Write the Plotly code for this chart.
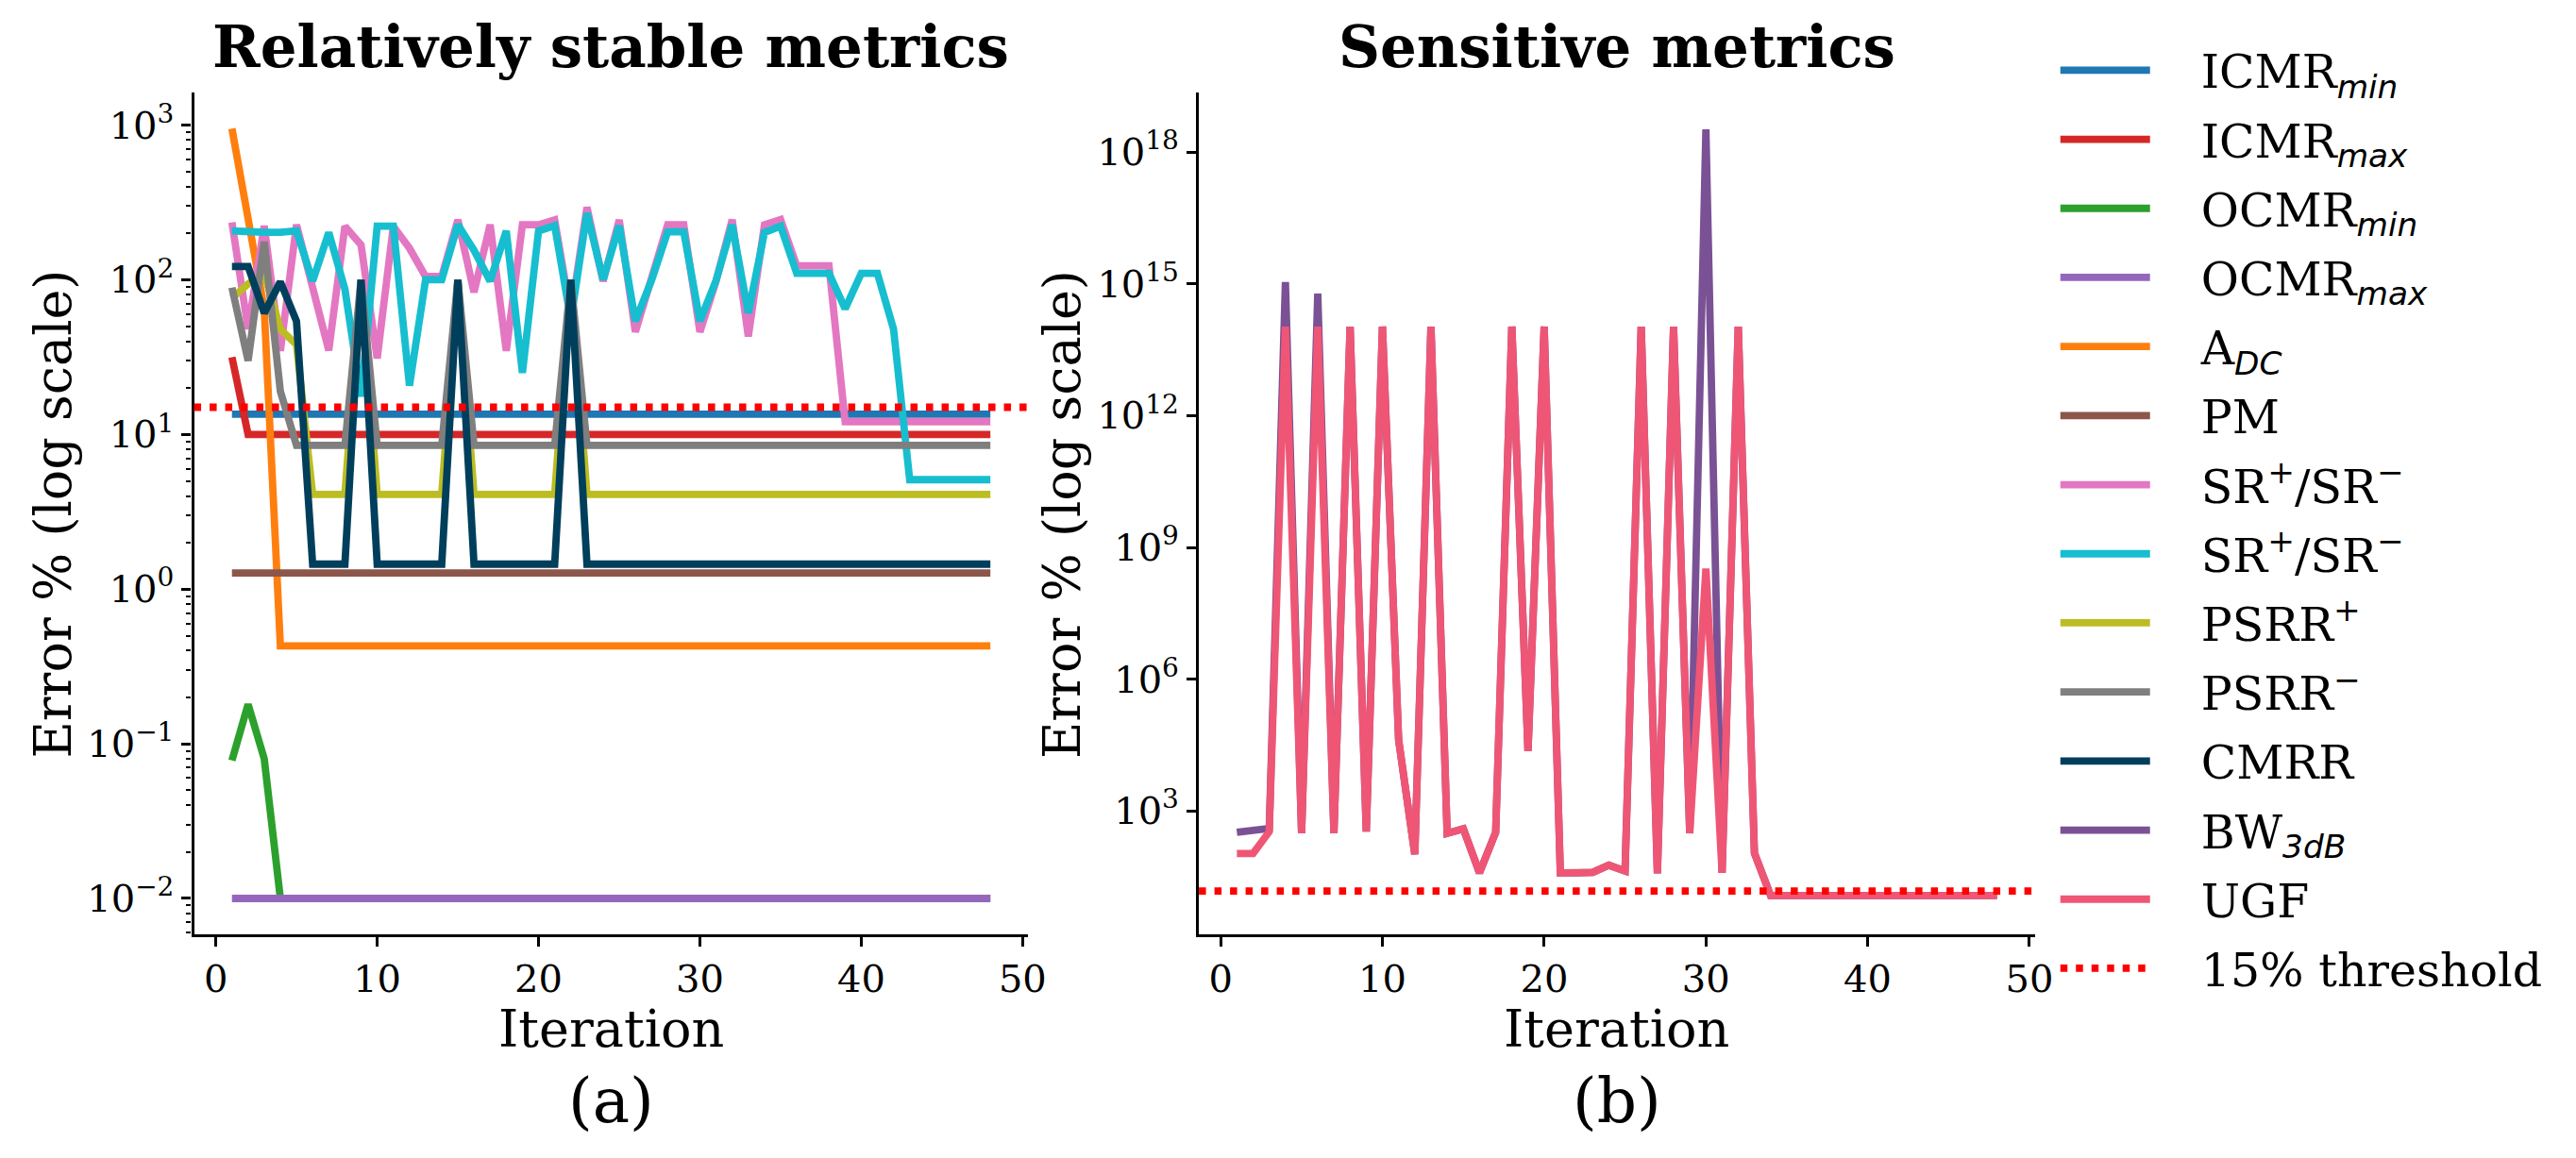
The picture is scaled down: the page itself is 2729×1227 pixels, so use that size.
import plotly.graph_objects as go

# ---------------- data ----------------
iterations = list(range(1, 49))

icmr_min = [13.5, 13.5, 13.5, 13.5, 13.5, 13.5, 13.5, 13.5, 13.5, 13.5, 13.5, 13.5,
            13.5, 13.5, 13.5, 13.5, 13.5, 13.5, 13.5, 13.5, 13.5, 13.5, 13.5, 13.5,
            13.5, 13.5, 13.5, 13.5, 13.5, 13.5, 13.5, 13.5, 13.5, 13.5, 13.5, 13.5,
            13.5, 13.5, 13.5, 13.5, 13.5, 13.5, 13.5, 13.5, 13.5, 13.5, 13.5, 13.5]
icmr_max = [31.6, 10, 10, 10, 10, 10, 10, 10, 10, 10, 10, 10,
            10, 10, 10, 10, 10, 10, 10, 10, 10, 10, 10, 10,
            10, 10, 10, 10, 10, 10, 10, 10, 10, 10, 10, 10,
            10, 10, 10, 10, 10, 10, 10, 10, 10, 10, 10, 10]
ocmr_min = [0.078, 0.18, 0.08, 0.01, 0.01, 0.01, 0.01, 0.01, 0.01, 0.01, 0.01, 0.01,
            0.01, 0.01, 0.01, 0.01, 0.01, 0.01, 0.01, 0.01, 0.01, 0.01, 0.01, 0.01,
            0.01, 0.01, 0.01, 0.01, 0.01, 0.01, 0.01, 0.01, 0.01, 0.01, 0.01, 0.01,
            0.01, 0.01, 0.01, 0.01, 0.01, 0.01, 0.01, 0.01, 0.01, 0.01, 0.01, 0.01]
ocmr_max = [0.01, 0.01, 0.01, 0.01, 0.01, 0.01, 0.01, 0.01, 0.01, 0.01, 0.01, 0.01,
            0.01, 0.01, 0.01, 0.01, 0.01, 0.01, 0.01, 0.01, 0.01, 0.01, 0.01, 0.01,
            0.01, 0.01, 0.01, 0.01, 0.01, 0.01, 0.01, 0.01, 0.01, 0.01, 0.01, 0.01,
            0.01, 0.01, 0.01, 0.01, 0.01, 0.01, 0.01, 0.01, 0.01, 0.01, 0.01, 0.01]
a_dc = [950, 250, 65, 0.43, 0.43, 0.43, 0.43, 0.43, 0.43, 0.43, 0.43, 0.43,
        0.43, 0.43, 0.43, 0.43, 0.43, 0.43, 0.43, 0.43, 0.43, 0.43, 0.43, 0.43,
        0.43, 0.43, 0.43, 0.43, 0.43, 0.43, 0.43, 0.43, 0.43, 0.43, 0.43, 0.43,
        0.43, 0.43, 0.43, 0.43, 0.43, 0.43, 0.43, 0.43, 0.43, 0.43, 0.43, 0.43]
pm = [1.27, 1.27, 1.27, 1.27, 1.27, 1.27, 1.27, 1.27, 1.27, 1.27, 1.27, 1.27,
      1.27, 1.27, 1.27, 1.27, 1.27, 1.27, 1.27, 1.27, 1.27, 1.27, 1.27, 1.27,
      1.27, 1.27, 1.27, 1.27, 1.27, 1.27, 1.27, 1.27, 1.27, 1.27, 1.27, 1.27,
      1.27, 1.27, 1.27, 1.27, 1.27, 1.27, 1.27, 1.27, 1.27, 1.27, 1.27, 1.27]
sr_a = [235, 48, 223, 34.7, 227, 89, 35, 222, 168, 31, 222, 160,
        105, 105, 244, 83, 227, 34.7, 227, 227, 244, 60, 294, 98,
        244, 46, 98, 227, 227, 46, 98, 245, 43, 227, 245, 123,
        123, 123, 12.1, 12.1, 12.1, 12.1, 12.1, 12.1, 12.1, 12.1, 12.1, 12.1]
sr_b = [207, 203, 203, 203, 207, 98, 202, 87, 17.6, 222, 222, 20.7,
        100, 100, 227, 155, 98, 207, 25, 207, 224, 55, 270, 100,
        224, 54, 99, 204, 204, 54, 99, 227, 61, 202, 222, 110,
        110, 110, 65, 110, 110, 48, 5.1, 5.1, 5.1, 5.1, 5.1, 5.1]
psrr_plus = [76, 94, 110, 48, 38, 4.1, 4.1, 4.1, 100, 4.1, 4.1, 4.1,
             4.1, 4.1, 100, 4.1, 4.1, 4.1, 4.1, 4.1, 4.1, 100, 4.1, 4.1,
             4.1, 4.1, 4.1, 4.1, 4.1, 4.1, 4.1, 4.1, 4.1, 4.1, 4.1, 4.1,
             4.1, 4.1, 4.1, 4.1, 4.1, 4.1, 4.1, 4.1, 4.1, 4.1, 4.1, 4.1]
psrr_minus = [89, 30, 176, 19, 8.5, 8.5, 8.5, 8.5, 100, 8.5, 8.5, 8.5,
              8.5, 8.5, 100, 8.5, 8.5, 8.5, 8.5, 8.5, 8.5, 100, 8.5, 8.5,
              8.5, 8.5, 8.5, 8.5, 8.5, 8.5, 8.5, 8.5, 8.5, 8.5, 8.5, 8.5,
              8.5, 8.5, 8.5, 8.5, 8.5, 8.5, 8.5, 8.5, 8.5, 8.5, 8.5, 8.5]
cmrr = [122, 122, 61, 97, 54, 1.45, 1.45, 1.45, 100, 1.45, 1.45, 1.45,
        1.45, 1.45, 100, 1.45, 1.45, 1.45, 1.45, 1.45, 1.45, 100, 1.45, 1.45,
        1.45, 1.45, 1.45, 1.45, 1.45, 1.45, 1.45, 1.45, 1.45, 1.45, 1.45, 1.45,
        1.45, 1.45, 1.45, 1.45, 1.45, 1.45, 1.45, 1.45, 1.45, 1.45, 1.45, 1.45]
bw_3db = [325, 355, 400, 1.1e15, 309, 6e14, 309, 1.07e14, 337, 1.07e14, 41400, 103,
          1.07e14, 309, 390, 39, 325, 1.07e14, 23100, 1.07e14, 39, 39, 40, 58,
          43, 1.07e14, 38, 1.07e14, 309, 3.3e18, 39, 1.07e14, 110, 11.9, 11.9, 11.9,
          11.9, 11.9, 11.9, 11.9, 11.9, 11.9, 11.9, 11.9, 11.9, 11.9, 11.9, 11.9]
ugf = [107, 107, 337, 1.07e14, 309, 1.07e14, 309, 1.07e14, 337, 1.07e14, 41400, 103,
       1.07e14, 309, 390, 39, 325, 1.07e14, 23100, 1.07e14, 39, 39, 40, 58,
       43, 1.07e14, 38, 1.07e14, 309, 3.3e8, 39, 1.07e14, 110, 11.9, 11.9, 11.9,
       11.9, 11.9, 11.9, 11.9, 11.9, 11.9, 11.9, 11.9, 11.9, 11.9, 11.9, 11.9]
threshold = 15

PAD = "\u2002\u2002"   # gap between legend sample and label
SUB = '<sub><span style="font-family:\'DejaVu Sans\'"><i>{}</i></span></sub>'
left_series = [
    ("ICMR" + SUB.format("min"), icmr_min, "#1f77b4"),
    ("ICMR" + SUB.format("max"), icmr_max, "#d62728"),
    ("OCMR" + SUB.format("min"), ocmr_min, "#2ca02c"),
    ("OCMR" + SUB.format("max"), ocmr_max, "#9467bd"),
    ("A" + SUB.format("DC"), a_dc, "#ff7f0e"),
    ("PM", pm, "#8c564b"),
    ("SR<sup>+</sup>/SR<sup>\u2212</sup>", sr_a, "#e377c2"),
    ("SR<sup>+</sup>/SR<sup>\u2212</sup>", sr_b, "#17becf"),
    ("PSRR<sup>+</sup>", psrr_plus, "#bcbd22"),
    ("PSRR<sup>\u2212</sup>", psrr_minus, "#7f7f7f"),
    ("CMRR", cmrr, "#003f5c"),
]
right_series = [
    ("BW" + SUB.format("3dB"), bw_3db, "#7a5195"),
    ("UGF", ugf, "#ef5675"),
]

FONT = "DejaVu Serif"
LW = 7.8
DOT = "7.5px,9px"

fig = go.Figure()
gi = 0
for name, vals, col in left_series:
    fig.add_trace(go.Scatter(x=iterations, y=vals, mode="lines", name=PAD + name,
                             line=dict(color=col, width=LW),
                             xaxis="x", yaxis="y", legendgroup=f"g{gi}"))
    gi += 1
for name, vals, col in right_series:
    fig.add_trace(go.Scatter(x=iterations, y=vals, mode="lines", name=PAD + name,
                             line=dict(color=col, width=LW),
                             xaxis="x2", yaxis="y2", legendgroup=f"g{gi}"))
    gi += 1
fig.add_trace(go.Scatter(x=[None], y=[None], mode="lines", name=PAD + "15% threshold",
                         line=dict(color="#ff0000", width=LW, dash=DOT),
                         xaxis="x2", yaxis="y2", legendgroup=f"g{gi}"))

for xr, yr in (("x domain", "y"), ("x2 domain", "y2")):
    fig.add_shape(type="line", xref=xr, yref=yr, x0=0, x1=1, y0=threshold, y1=threshold,
                  line=dict(color="#ff0000", width=LW, dash=DOT), layer="above")

W, H = 2729, 1227
def px(v): return v / W
def py(v): return 1 - v / H

axis_common = dict(showline=True, linecolor="black", linewidth=3.3, mirror=False,
                   ticks="outside", ticklen=10, tickwidth=3, tickcolor="black",
                   showgrid=False, zeroline=False,
                   tickfont=dict(family=FONT, size=40, color="black"))

xticks = [0, 10, 20, 30, 40, 50]
xrange_ = [-1.35, 50.35]

left_major = [1e-2, 1e-1, 1e0, 1e1, 1e2, 1e3]
left_major_txt = ["10<sup>\u22122</sup>", "10<sup>\u22121</sup>", "10<sup>0</sup>",
                  "10<sup>1</sup>", "10<sup>2</sup>", "10<sup>3</sup>"]
left_minor = [m * 10 ** e for e in range(-3, 4) for m in range(2, 10)]
right_major = [1e3, 1e6, 1e9, 1e12, 1e15, 1e18]
right_major_txt = ["10<sup>3</sup>", "10<sup>6</sup>", "10<sup>9</sup>",
                   "10<sup>12</sup>", "10<sup>15</sup>", "10<sup>18</sup>"]

ydom = [py(990), py(97.5)]
fig.update_layout(
    width=W, height=H,
    margin=dict(l=0, r=0, t=0, b=0),
    paper_bgcolor="white", plot_bgcolor="white",
    font=dict(family=FONT, color="black"),
    xaxis=dict(domain=[px(207), px(1097)], anchor="y", range=xrange_,
               tickvals=xticks, **axis_common),
    xaxis2=dict(domain=[px(1279), px(2171)], anchor="y2", range=xrange_,
                tickvals=xticks, **axis_common),
    yaxis=dict(domain=ydom, anchor="x", type="log", range=[-2.232, 3.214],
               tickvals=left_major, ticktext=left_major_txt,
               minor=dict(tickvals=left_minor, ticks="outside", ticklen=5,
                          tickwidth=2, tickcolor="black", showgrid=False),
               **axis_common),
    yaxis2=dict(domain=ydom, anchor="x2", type="log", range=[0.19, 19.37],
                tickvals=right_major, ticktext=right_major_txt, **axis_common),
    showlegend=True,
    legend=dict(x=px(2193), y=py(36), xanchor="left", yanchor="top",
                font=dict(family=FONT, size=49, color="black"),
                bgcolor="rgba(0,0,0,0)", borderwidth=0,
                itemwidth=95, tracegroupgap=6.5, traceorder="grouped"),
)

ann = []
ann.append(dict(text="<b>Relatively stable metrics</b>", x=px(652), y=py(49),
                font=dict(size=61)))
ann.append(dict(text="<b>Sensitive metrics</b>", x=px(1725), y=py(49),
                font=dict(size=61)))
ann.append(dict(text="Iteration", x=px(652), y=py(1090), font=dict(size=54)))
ann.append(dict(text="Iteration", x=px(1725), y=py(1090), font=dict(size=54)))
ann.append(dict(text="(a)", x=px(652), y=py(1166), font=dict(size=66)))
ann.append(dict(text="(b)", x=px(1725), y=py(1166), font=dict(size=66)))
ann.append(dict(text="Error % (log scale)", x=px(56), y=py(545), font=dict(size=54),
                textangle=-90))
ann.append(dict(text="Error % (log scale)", x=px(1133), y=py(545), font=dict(size=54),
                textangle=-90))
for a in ann:
    a.update(xref="paper", yref="paper", showarrow=False, xanchor="center",
             yanchor="middle")
    a["font"].update(family=FONT, color="black")
fig.update_layout(annotations=ann)

fig.write_html("out.html")
